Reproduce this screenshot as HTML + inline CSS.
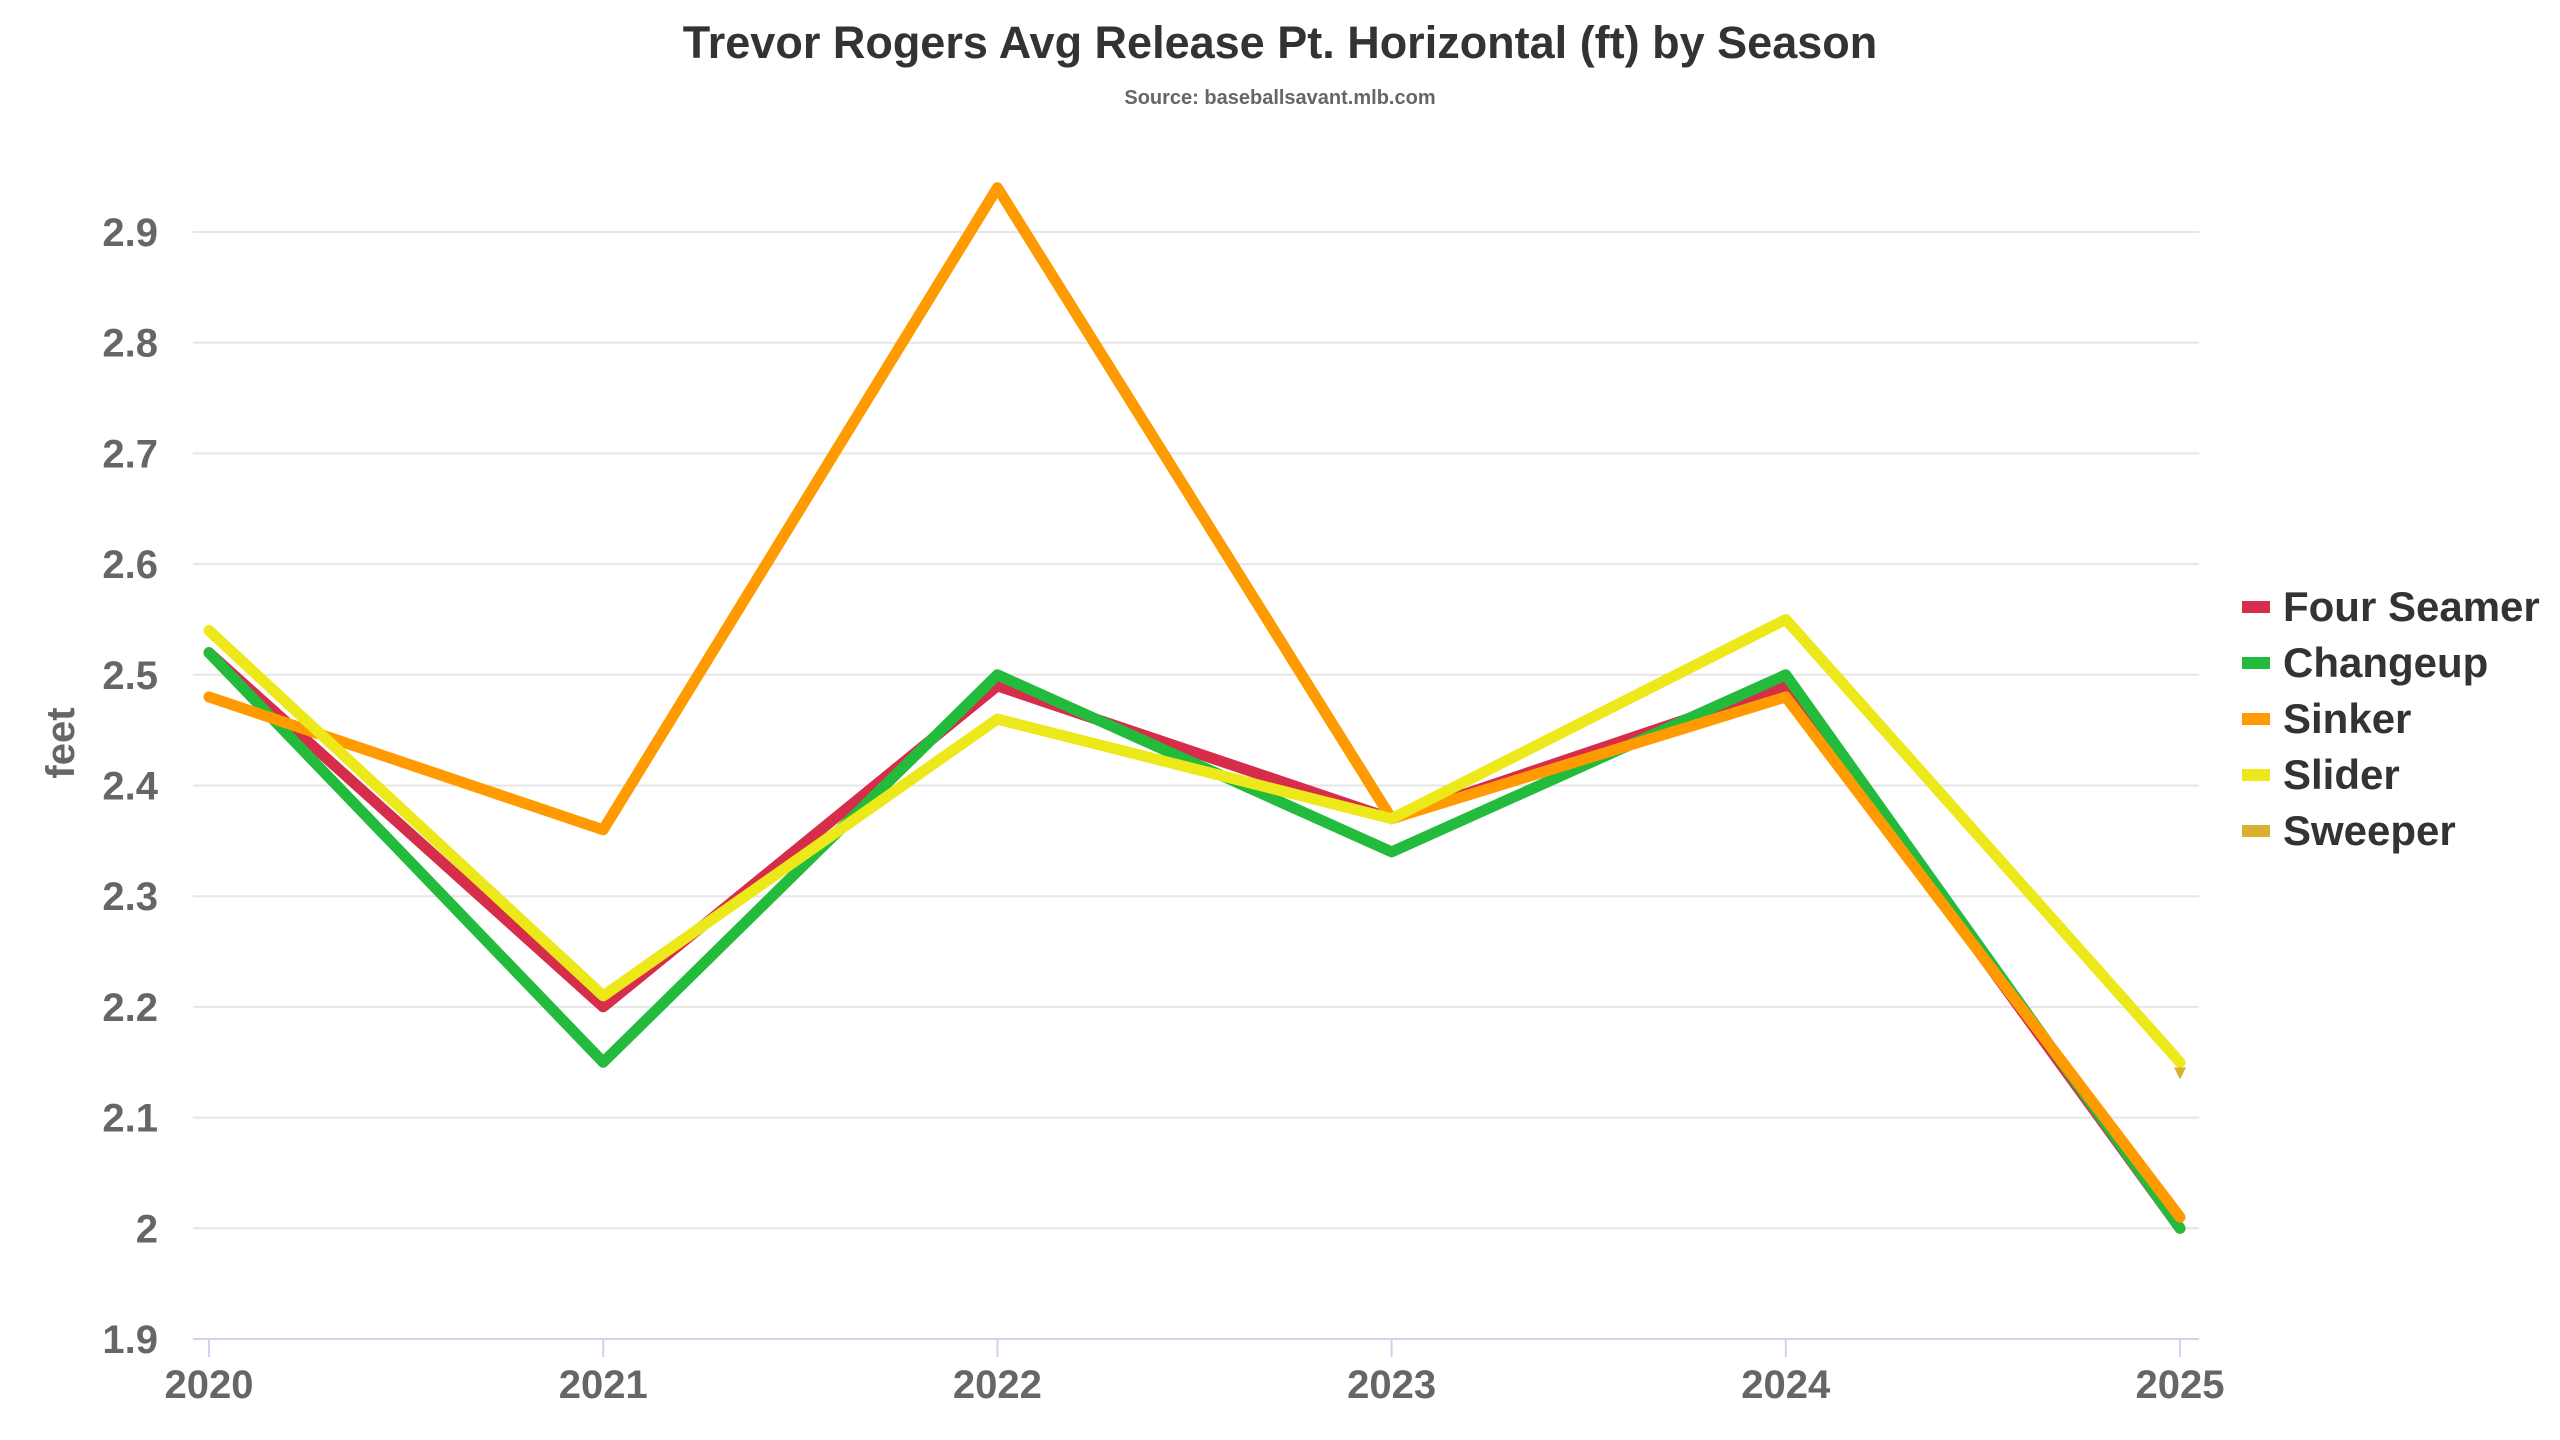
<!DOCTYPE html>
<html><head><meta charset="utf-8"><style>
html,body{margin:0;padding:0;background:#fff;}
svg{display:block;font-family:"Liberation Sans Narrow","Liberation Sans",sans-serif;font-weight:bold;}
</style></head><body>
<svg id="chart" width="2560" height="1440" viewBox="0 0 2560 1440">
<text x="1280" y="58" text-anchor="middle" font-size="45" fill="#333">Trevor Rogers Avg Release Pt. Horizontal (ft) by Season</text>
<text x="1280" y="104" text-anchor="middle" font-size="20" fill="#666">Source: baseballsavant.mlb.com</text>
<text transform="translate(74,743) rotate(-90)" text-anchor="middle" font-size="40" fill="#666">feet</text>
<g id="grid"></g><g id="series"></g><g id="legend"></g>
</svg>
<script>
const years = ["2020","2021","2022","2023","2024","2025"];
const yTicks = [1.9,2.0,2.1,2.2,2.3,2.4,2.5,2.6,2.7,2.8,2.9];
const yTickLabels = ["1.9","2","2.1","2.2","2.3","2.4","2.5","2.6","2.7","2.8","2.9"];
const seriesNames = ["Four Seamer","Changeup","Sinker","Slider","Sweeper"];
const seriesColors = ["#d62d4a","#22bb3c","#ff9b00","#ece81a","#d9b030"];
const fourSeamer = [2.52,2.20,2.49,2.37,2.49,2.00];
const changeup = [2.52,2.15,2.50,2.34,2.50,2.00];
const sinker = [2.48,2.36,2.94,2.37,2.48,2.01];
const slider = [2.54,2.21,2.46,2.37,2.55,2.15];
const sweeper = [null,null,null,null,null,2.14];
const allSeries = [fourSeamer,changeup,sinker,slider,sweeper];

const NS="http://www.w3.org/2000/svg";
const X0=209,X1=2180,Y0=1339,YTOP=232,VMIN=1.9,VMAX=2.9;
const xs=i=>X0+(X1-X0)*i/(years.length-1);
const ys=v=>Y0-(v-VMIN)/(VMAX-VMIN)*(Y0-YTOP);
function mk(tag,attrs,parent){const e=document.createElementNS(NS,tag);for(const k in attrs)e.setAttribute(k,attrs[k]);parent.appendChild(e);return e;}
const grid=document.getElementById('grid');
yTicks.forEach((v,i)=>{
  if(i>0){const l=mk('line',{x1:193,x2:2199,y1:ys(v),y2:ys(v),stroke:'#e6e6e6','stroke-width':2},grid);
  
  }
  const t=mk('text',{x:158,y:ys(v)+14,'text-anchor':'end','font-size':40,fill:'#666'},grid);
  t.textContent=yTickLabels[i];
  
  
});
const ax=mk('line',{x1:193,x2:2199,y1:Y0,y2:Y0,stroke:'#ccd6eb','stroke-width':2},grid);


years.forEach((y,i)=>{
  const tk=mk('line',{x1:xs(i),x2:xs(i),y1:Y0,y2:Y0+18,stroke:'#ccd6eb','stroke-width':2},grid);
  
  
  const t=mk('text',{x:xs(i),y:1398,'text-anchor':'middle','font-size':40,fill:'#666'},grid);
  t.textContent=y;
  
  
});
const sg=document.getElementById('series');
allSeries.forEach((data,si)=>{
  const pts=[];data.forEach((v,i)=>{if(v!==null)pts.push(xs(i)+','+ys(v));});
  if(pts.length>1){
    const p=mk('polyline',{points:pts.join(' '),fill:'none',stroke:seriesColors[si],'stroke-width':11,'stroke-linejoin':'round','stroke-linecap':'round'},sg);
    
    
  } else {
    data.forEach((v,i)=>{if(v===null)return;const cx=xs(i),cy=ys(v);
      const m=mk('polygon',{points:(cx-6)+','+(cy-6)+' '+(cx+6)+','+(cy-6)+' '+cx+','+(cy+6),fill:seriesColors[si]},sg);
      
      });
  }
});
const lg=document.getElementById('legend');
seriesNames.forEach((n,i)=>{
  const y=607+i*56;
  const g=mk('g',{},lg);
  
  
  mk('rect',{x:2242,y:y-6,width:28,height:12,fill:seriesColors[i]},g);
  const t=mk('text',{x:2283,y:y+14,'font-size':42,fill:'#333'},g);
  t.textContent=n;
});
</script>
</body></html>
